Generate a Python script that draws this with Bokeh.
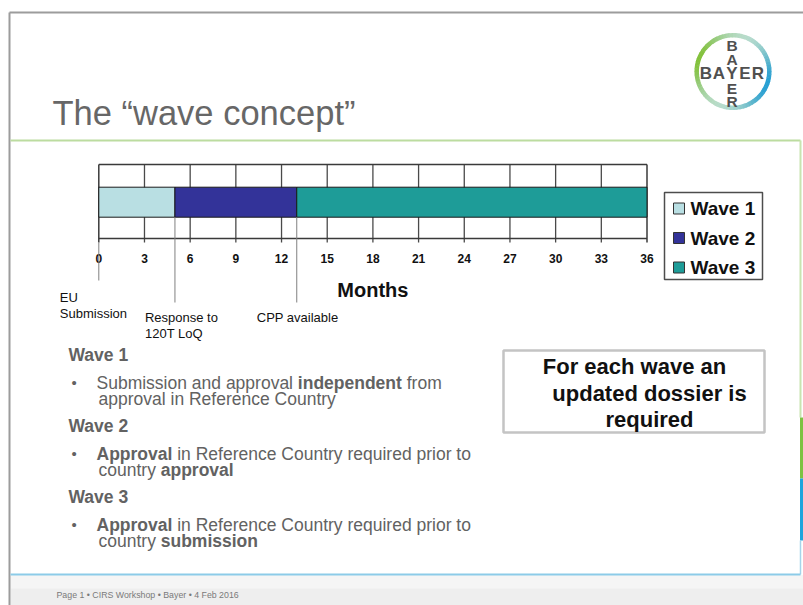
import math
from bokeh.plotting import figure
from bokeh.models import Range1d
from bokeh.embed import file_html
from bokeh.resources import INLINE
from bokeh.core.properties import value

# ---------------- data ----------------
title_text = "The \u201cwave concept\u201d"
series = ["Wave 1", "Wave 2", "Wave 3"]
durations = [5, 8, 23]                      # months per wave
series_colors = ["#b9dfe3", "#333399", "#1e9c98"]
month_ticks = [0, 3, 6, 9, 12, 15, 18, 21, 24, 27, 30, 33, 36]
tick_labels = ["0", "3", "6", "9", "12", "15", "18", "21", "24", "27", "30", "33", "36"]
axis_title = "Months"
milestones = [0, 5, 13]
milestone_text = [["EU", "Submission"], ["Response to", "120T LoQ"], ["CPP available"]]
body_headings = ["Wave 1", "Wave 2", "Wave 3"]
body_lines = [
    [[("Submission and approval ", False), ("independent", True), (" from", False)],
     [("approval in Reference Country", False)]],
    [[("Approval", True), (" in Reference Country required prior to", False)],
     [("country ", False), ("approval", True)]],
    [[("Approval", True), (" in Reference Country required prior to", False)],
     [("country ", False), ("submission", True)]],
]
box_lines = ["For each wave an", "updated dossier is", "required"]
footer_text = "Page 1 \u2022 CIRS Workshop \u2022 Bayer \u2022 4 Feb 2016"
logo_h = ["B", "A", "Y", "E", "R"]
logo_v = ["B", "A", "E", "R"]

FONT = "Liberation Sans"
W, H = 803, 605

# Arial-metric widths (1/1000 em) for mixed-style line layout
_lr = [556,556,500,556,556,278,556,556,222,222,500,222,833,556,556,556,556,333,500,278,556,500,722,500,500,500]
_lb = [556,611,556,611,556,333,611,611,278,278,556,278,889,611,611,611,611,389,556,333,611,556,778,556,556,500]
_ur = [667,667,722,722,667,611,778,722,278,500,667,556,833,722,778,667,778,722,667,611,722,667,944,667,667,611]
_ub = [722,722,722,722,667,611,778,722,278,556,722,611,833,722,778,667,778,722,667,611,722,667,944,667,667,611]
def _tab(lo, up):
    d = {chr(97 + i): w for i, w in enumerate(lo)}
    d.update({chr(65 + i): w for i, w in enumerate(up)})
    d[" "] = 278
    return d
W_REG, W_BOLD = _tab(_lr, _ur), _tab(_lb, _ub)
def text_w(s, size, bold):
    t = W_BOLD if bold else W_REG
    return sum(t.get(c, 556) for c in s) * size / 1000.0

# ---------------- figure ----------------
x0_px, x36_px = 98.3, 646.5
k = (x36_px - x0_px) / 36.0
p = figure(width=W, height=H, x_range=Range1d(0, W), y_range=Range1d(H, 0),
           output_backend="svg", toolbar_location=None,
           x_axis_location=None, y_axis_location=None, min_border=0)
p.extra_x_ranges = {"months": Range1d(-x0_px / k, (W - x0_px) / k)}
p.outline_line_color = None
p.background_fill_color = "white"
p.border_fill_color = "white"
p.grid.visible = False

# ---------------- slide frame ----------------
p.quad(left=[10], right=[W], top=[575], bottom=[H], fill_color="#eeeeee", line_color=None)
p.quad(left=[10], right=[W], top=[575], bottom=[588], fill_color="#f5f5f5", line_color=None)
p.segment(x0=[9, 9], y0=[12, 12], x1=[W, 9], y1=[12, H], line_color="#9c9c9c", line_width=2)
p.segment(x0=[10], y0=[140], x1=[800], y1=[140], line_color="#bcdca0", line_width=2)
p.segment(x0=[800], y0=[140], x1=[800], y1=[417], line_color="#c8e4b0", line_width=2)
p.segment(x0=[801.5], y0=[417], x1=[801.5], y1=[478], line_color="#7cc242", line_width=4)
p.segment(x0=[801.5], y0=[478], x1=[801.5], y1=[540], line_color="#1ea5dc", line_width=4)
p.segment(x0=[800], y0=[540], x1=[800], y1=[574], line_color="#a6d4ea", line_width=1.5)
p.segment(x0=[10], y0=[574], x1=[800], y1=[574], line_color="#8ccbe8", line_width=2)

# title
p.text(x=[52], y=[112], text=[title_text], text_font=value(FONT), text_font_size=value("34.5px"),
       text_color="#676767", text_baseline="alphabetic", text_align="left")

# logo ring (gradient green -> blue)
cx, cy, r = 732.5, 71, 36.3
green, blue, pale = (132, 194, 60), (40, 160, 212), (225, 238, 232)
n = 72
for i in range(n):
    a0 = 360.0 * i / n
    a1 = 360.0 * (i + 1) / n + 0.8
    am = math.radians((a0 + a1) / 2 - 160)
    t = (1 + math.cos(am)) / 2
    pf = abs(math.sin(am)) ** 2 * 0.7
    c = [int((g * t + b * (1 - t)) * (1 - pf) + pl * pf) for g, b, pl in zip(green, blue, pale)]
    p.arc(x=[cx], y=[cy], radius=r, start_angle=math.radians(a0), end_angle=math.radians(a1),
          line_color="#%02x%02x%02x" % tuple(c), line_width=4.5)
lx = 731.5
p.text(x=[lx - 26, lx - 13, lx, lx + 13, lx + 26], y=[73] * 5, text=logo_h,
       text_font=value(FONT), text_font_size=value("17px"), text_font_style="bold",
       text_color="#505050", text_align="center", text_baseline="middle")
p.text(x=[lx] * 4, y=[45, 58.5, 87.5, 101], text=logo_v, text_font=value(FONT),
       text_font_size=value("15.5px"), text_font_style="bold", text_color="#505050",
       text_align="center", text_baseline="middle")

# ---------------- chart ----------------
top_y, bar_top, bar_bot, axis_y, tick_end = 164, 186.7, 216.7, 238, 242
inner = month_ticks[1:-1]
p.segment(x0=inner, y0=[top_y] * len(inner), x1=inner, y1=[tick_end] * len(inner),
          x_range_name="months", line_color="#4a4a4a", line_width=1.3)
p.segment(x0=[month_ticks[0], month_ticks[-1]], y0=[top_y, top_y],
          x1=[month_ticks[0], month_ticks[-1]], y1=[tick_end, tick_end],
          x_range_name="months", line_color="#3a3a3a", line_width=1.5)
p.segment(x0=[month_ticks[0], month_ticks[0]], y0=[top_y, axis_y],
          x1=[month_ticks[-1], month_ticks[-1]], y1=[top_y, axis_y],
          x_range_name="months", line_color="#3a3a3a", line_width=1.5)

lefts, rights, acc = [], [], 0
for d in durations:
    lefts.append(acc)
    acc += d
    rights.append(acc)
p.hbar(y=[(bar_top + bar_bot) / 2] * len(series), left=lefts, right=rights,
       height=bar_bot - bar_top, fill_color=series_colors, line_color="#1a1a1a",
       line_width=1, x_range_name="months")

p.text(x=month_ticks, y=[258] * len(month_ticks), text=tick_labels, x_range_name="months",
       text_font=value(FONT), text_font_size=value("12px"), text_font_style="bold",
       text_color="#111111", text_align="center", text_baseline="middle")
p.text(x=[(month_ticks[0] + month_ticks[-1]) / 2], y=[289], text=[axis_title],
       x_range_name="months", text_font=value(FONT), text_font_size=value("20px"),
       text_font_style="bold", text_color="#111111", text_align="center", text_baseline="middle")

# milestone markers
ms_y0 = [axis_y + 4, bar_bot, bar_bot]
ms_y1 = [280, 302, 302]
p.segment(x0=milestones, y0=ms_y0, x1=milestones, y1=ms_y1, x_range_name="months",
          line_color="#808080", line_width=1)
ms_dx = [-39, -30, -40]
ms_base = [297, 317, 317]
mx, my, mt, mo = [], [], [], []
for m, lines, dx, base in zip(milestones, milestone_text, ms_dx, ms_base):
    for j, s in enumerate(lines):
        mx.append(m); my.append(base + 16 * j); mt.append(s); mo.append(dx)
p.text(x=mx, y=my, text=mt, x_offset=mo, x_range_name="months", text_font=value(FONT),
       text_font_size=value("13px"), text_color="#111111", text_align="left",
       text_baseline="middle")

# legend (manual)
p.quad(left=[664], right=[762], top=[192], bottom=[279], fill_color="white",
       line_color="#4d4d4d", line_width=1.5)
leg_y = [208, 237.5, 267]
p.rect(x=[678.5] * 3, y=leg_y, width=11, height=11, fill_color=series_colors,
       line_color="#333333", line_width=1)
p.text(x=[690] * 3, y=leg_y, text=series, text_font=value(FONT), text_font_size=value("19px"),
       text_font_style="bold", text_color="#111111", text_align="left", text_baseline="middle")

# ---------------- body text ----------------
GRAY = "#626262"
BS = 17.5
head_y = [354.5, 425.5, 496.5]
p.text(x=[68] * 3, y=head_y, text=body_headings, text_font=value(FONT),
       text_font_size=value("17.5px"), text_font_style="bold", text_color=GRAY,
       text_baseline="alphabetic", text_align="left")
p.text(x=[71] * 3, y=[hy + 27.5 for hy in head_y], text=["\u2022"] * 3, text_font=value(FONT),
       text_font_size=value("15px"), text_color=GRAY, text_baseline="alphabetic", text_align="left")
rx, ry, rt, bx, by, bt = [], [], [], [], [], []
for hy, lines in zip(head_y, body_lines):
    for j, segs in enumerate(lines):
        x = 96 if j == 0 else 98
        y = hy + 27.5 + 16.5 * j
        for s, bold in segs:
            lead = len(s) - len(s.lstrip(" "))
            x += lead * 278 * BS / 1000.0
            s2 = s.strip(" ")
            if bold:
                bx.append(x); by.append(y); bt.append(s2)
            else:
                rx.append(x); ry.append(y); rt.append(s2)
            x += text_w(s.lstrip(" "), BS, bold)
p.text(x=rx, y=ry, text=rt, text_font=value(FONT), text_font_size=value("17.5px"),
       text_color=GRAY, text_baseline="alphabetic", text_align="left")
p.text(x=bx, y=by, text=bt, text_font=value(FONT), text_font_size=value("17.5px"),
       text_font_style="bold", text_color=GRAY, text_baseline="alphabetic", text_align="left")

# right note box
p.quad(left=[503], right=[764], top=[350], bottom=[432], fill_color="white",
       line_color="#c4c4c4", line_width=2.5)
p.text(x=[634, 649, 649], y=[366, 393, 419], text=box_lines, text_font=value(FONT),
       text_font_size=value("22px"), text_font_style="bold", text_color="#111111",
       text_align="center", text_baseline="middle")

# footer
p.text(x=[56], y=[594], text=[footer_text], text_font=value(FONT), text_font_size=value("8.8px"),
       text_color="#7a7a7a", text_align="left", text_baseline="middle")

open("out.html", "w").write(file_html(p, INLINE))
